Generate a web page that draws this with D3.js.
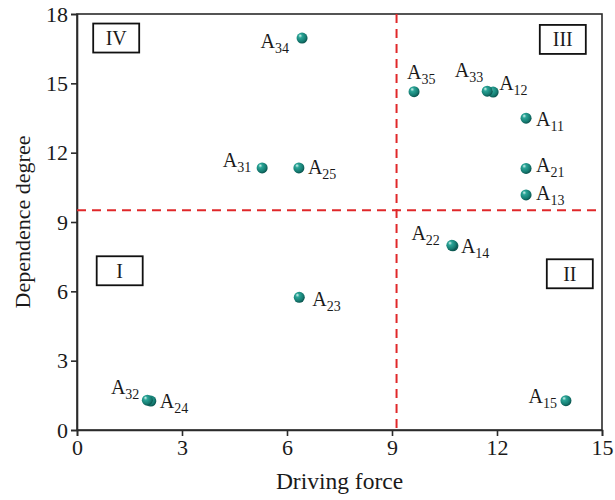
<!DOCTYPE html>
<html>
<head>
<meta charset="utf-8">
<script src="https://cdn.jsdelivr.net/npm/d3@7"></script>
<style>
  html, body { margin: 0; padding: 0; background: #fff; }
  svg { display: block; }
  text { font-family: "Liberation Serif", "Times New Roman", serif; fill: #1a1a1a; }
</style>
</head>
<body>
<svg id="chart" width="615" height="500"></svg>
<script>
// ---- data ----
const factorIds   = ["11","12","13","14","15","21","22","23","24","25","31","32","33","34","35"];
const drivingForce = [12.83, 11.89, 12.83, 10.74, 13.97, 12.83, 10.71, 6.35, 2.11, 6.34, 5.29, 2.01, 11.72, 6.43, 9.63];
const dependence   = [13.49, 14.62, 10.17, 7.97, 1.27, 11.32, 7.99, 5.74, 1.25, 11.34, 11.34, 1.29, 14.66, 16.96, 14.64];
const xTicks = [0, 3, 6, 9, 12, 15];
const yTicks = [0, 3, 6, 9, 12, 15, 18];
const thresholdX = 9.13;
const thresholdY = 9.51;
const quadrantNames = ["IV", "III", "I", "II"];
const quadrantX = [1.12, 13.88, 1.22, 14.08];
const quadrantY = [16.96, 16.9, 6.89, 6.76];
const xTitle = "Driving force";
const yTitle = "Dependence degree";

// ---- label placement (styling only) ----
const labelPlace = {
  "11": [10, 8, "start"], "12": [6, -2, "start"], "13": [10, 5, "start"],
  "14": [8, 7, "start"], "15": [-9, 2, "end"], "21": [10, 4, "start"],
  "22": [-12, -5, "end"], "23": [13, 9, "start"], "24": [9, 7, "start"],
  "25": [9, 6, "start"], "31": [-11, -1, "end"], "32": [-8, -6, "end"],
  "33": [-4, -14, "end"], "34": [-13, 10, "end"], "35": [-7, -13, "start"]
};

const W = 615, H = 500;
const margin = { top: 14, right: 13, bottom: 70, left: 77 };
const iw = W - margin.left - margin.right;
const ih = H - margin.top - margin.bottom;

const svg = d3.select("#chart");
const defs = svg.append("defs");
const grad = defs.append("radialGradient").attr("id", "sphere")
  .attr("cx", "40%").attr("cy", "38%").attr("r", "60%").attr("fx", "32%").attr("fy", "28%");
grad.append("stop").attr("offset", "0%").attr("stop-color", "#d8f3ef");
grad.append("stop").attr("offset", "30%").attr("stop-color", "#2aa597");
grad.append("stop").attr("offset", "80%").attr("stop-color", "#157a70");
grad.append("stop").attr("offset", "100%").attr("stop-color", "#0c5751");

const g = svg.append("g").attr("transform", `translate(${margin.left},${margin.top})`);

const x = d3.scaleLinear().domain([0, 15]).range([0, iw]);
const y = d3.scaleLinear().domain([0, 18]).range([ih, 0]);

// frame
g.append("rect").attr("x", 0).attr("y", 0).attr("width", iw).attr("height", ih)
  .attr("fill", "none").attr("stroke", "#2b2b2b").attr("stroke-width", 1.6);

// axes
const xAxis = g.append("g").attr("transform", `translate(0,${ih})`)
  .call(d3.axisBottom(x).tickValues(xTicks).tickSize(6).tickPadding(3).tickFormat(d3.format("d")));
const yAxis = g.append("g")
  .call(d3.axisLeft(y).tickValues(yTicks).tickSize(6).tickPadding(3).tickFormat(d3.format("d")));
[xAxis, yAxis].forEach(a => {
  a.select(".domain").attr("stroke", "#2b2b2b").attr("stroke-width", 1.6);
  a.selectAll(".tick line").attr("stroke", "#2b2b2b").attr("stroke-width", 1.6);
  a.selectAll(".tick text").style("font-family", "'Liberation Serif', serif").style("font-size", "22px").attr("fill", "#1a1a1a");
});

// threshold dashed lines
g.append("line").attr("x1", x(thresholdX)).attr("x2", x(thresholdX)).attr("y1", 0).attr("y2", ih)
  .attr("stroke", "#e0282a").attr("stroke-width", 2).attr("stroke-dasharray", "9,6");
g.append("line").attr("x1", 0).attr("x2", iw).attr("y1", y(thresholdY)).attr("y2", y(thresholdY))
  .attr("stroke", "#e0282a").attr("stroke-width", 2).attr("stroke-dasharray", "9,6");

// quadrant boxes
quadrantNames.forEach((q, i) => {
  const cx = x(quadrantX[i]), cy = y(quadrantY[i]);
  g.append("rect").attr("x", cx - 23).attr("y", cy - 14.5).attr("width", 46).attr("height", 29)
    .attr("fill", "#fff").attr("stroke", "#111").attr("stroke-width", 1.8);
  g.append("text").attr("x", cx).attr("y", cy + 7).attr("text-anchor", "middle")
    .style("font-size", "20px").text(q);
});

// points
const pts = factorIds.map((id, i) => ({ id, x: drivingForce[i], y: dependence[i] }));
g.selectAll("circle.pt").data(pts).enter().append("circle").attr("class", "pt")
  .attr("cx", d => x(d.x)).attr("cy", d => y(d.y)).attr("r", 5.5)
  .attr("fill", "url(#sphere)");

// labels
const lab = g.selectAll("text.lab").data(pts).enter().append("text").attr("class", "lab")
  .attr("x", d => x(d.x) + labelPlace[d.id][0])
  .attr("y", d => y(d.y) + labelPlace[d.id][1])
  .attr("text-anchor", d => labelPlace[d.id][2])
  .style("font-size", "20px");
lab.append("tspan").text("A");
lab.append("tspan").attr("dy", 5).style("font-size", "14px").text(d => d.id);

// axis titles
svg.append("text").attr("x", margin.left + x(7.5)).attr("y", 489).attr("text-anchor", "middle")
  .style("font-size", "23.5px").text(xTitle);
svg.append("text").attr("transform", `translate(30,${margin.top + ih / 2}) rotate(-90)`)
  .attr("text-anchor", "middle").style("font-size", "22px").text(yTitle);
</script>
</body>
</html>
